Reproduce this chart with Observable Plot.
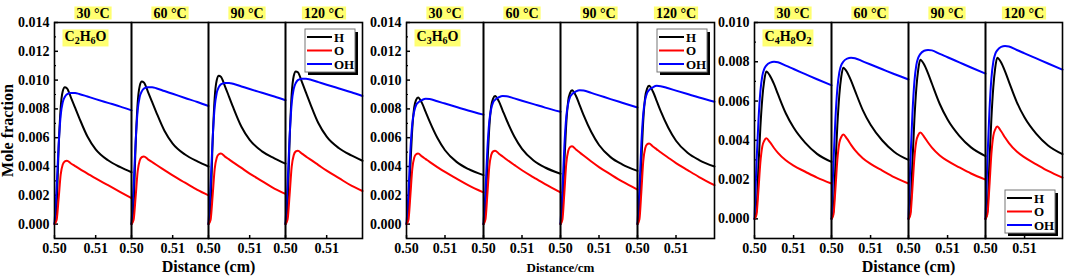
<!DOCTYPE html>
<html><head><meta charset="utf-8">
<script src="https://cdn.jsdelivr.net/npm/d3@7"></script>
<script src="https://cdn.jsdelivr.net/npm/@observablehq/plot@0.6"></script>
<style>
body{margin:0;background:#fff;}
#wrap{position:relative;width:1065px;height:276px;overflow:hidden;}
#wrap svg{position:absolute;top:0;overflow:visible;background:transparent;}
</style></head><body><div id="wrap"></div>
<script>
const temps = ["30 °C", "60 °C", "90 °C", "120 °C"];
const species = ["H", "O", "OH"];
const speciesColors = ["#000000", "#ff0000", "#0000ff"];
const yTicks14 = [0, 0.002, 0.004, 0.006, 0.008, 0.010, 0.012, 0.014];
const yMinor14 = [0.001, 0.003, 0.005, 0.007, 0.009, 0.011, 0.013];
const yTicks10 = [0, 0.002, 0.004, 0.006, 0.008, 0.010];
const yMinor10 = [0.001, 0.003, 0.005, 0.007, 0.009];
const xTicks = [0.50, 0.51];

// ---- C2H6O ----
const c2h6o_x = [0.5, 0.5005, 0.501, 0.5015, 0.502, 0.5025, 0.503, 0.504, 0.505, 0.506, 0.508, 0.510, 0.513, 0.516, 0.5187];
const c2h6o_H = [
  [0, 0.00114, 0.00523, 0.00808, 0.00922, 0.0095, 0.00944, 0.00879, 0.00808, 0.00738, 0.00608, 0.00519, 0.00443, 0.00395, 0.0036],
  [0, 0.00119, 0.00545, 0.00842, 0.0096, 0.0099, 0.00984, 0.00919, 0.00848, 0.00778, 0.00648, 0.00559, 0.00483, 0.00435, 0.0040],
  [0, 0.00124, 0.00567, 0.00876, 0.00999, 0.0103, 0.01024, 0.00957, 0.00884, 0.0081, 0.00676, 0.00585, 0.00505, 0.00457, 0.0042],
  [0, 0.00127, 0.00583, 0.00901, 0.01028, 0.0106, 0.01054, 0.00986, 0.00911, 0.00837, 0.0070, 0.00607, 0.00527, 0.00477, 0.0044]];
const c2h6o_O = [
  [0, 0.00026, 0.00176, 0.00343, 0.00414, 0.00436, 0.0044, 0.00421, 0.00403, 0.00385, 0.00351, 0.00317, 0.00270, 0.00222, 0.0018],
  [0, 0.00028, 0.00188, 0.00367, 0.00442, 0.00465, 0.0047, 0.00450, 0.00431, 0.00412, 0.00375, 0.00338, 0.00288, 0.00238, 0.0020],
  [0, 0.00029, 0.00196, 0.00382, 0.00461, 0.00485, 0.0049, 0.00469, 0.00449, 0.00429, 0.00390, 0.00351, 0.00299, 0.00247, 0.0021],
  [0, 0.00031, 0.00204, 0.00398, 0.00479, 0.00505, 0.0051, 0.00489, 0.00469, 0.00449, 0.00410, 0.00371, 0.00319, 0.00267, 0.0023]];
const c2h6o_OH = [
  [0, 0.00246, 0.00546, 0.00755, 0.00846, 0.00883, 0.00901, 0.0091, 0.0091, 0.00904, 0.00886, 0.00868, 0.00842, 0.00816, 0.0079],
  [0, 0.00257, 0.0057, 0.00789, 0.00884, 0.00922, 0.00941, 0.0095, 0.0095, 0.00944, 0.00924, 0.00905, 0.00876, 0.00848, 0.0082],
  [0, 0.00265, 0.00588, 0.00813, 0.00911, 0.00951, 0.0097, 0.0098, 0.0098, 0.00974, 0.00956, 0.00938, 0.00912, 0.00886, 0.0086],
  [0, 0.00273, 0.00606, 0.00838, 0.00939, 0.0098, 0.0100, 0.0101, 0.0101, 0.01004, 0.00986, 0.00968, 0.00942, 0.00916, 0.0089]];

// ---- C3H6O ----
const c3h6o_x = [0.5, 0.5005, 0.501, 0.5015, 0.502, 0.5025, 0.503, 0.504, 0.505, 0.506, 0.508, 0.510, 0.513, 0.516, 0.5200];
const c3h6o_H = [
  [0, 0.00088, 0.00396, 0.0066, 0.0081, 0.00862, 0.0088, 0.00842, 0.00777, 0.00713, 0.00599, 0.00513, 0.00432, 0.00383, 0.0034],
  [0, 0.00089, 0.00401, 0.00668, 0.00819, 0.00872, 0.0089, 0.00852, 0.00787, 0.00723, 0.00609, 0.00523, 0.00442, 0.00393, 0.0035],
  [0, 0.00093, 0.00419, 0.00698, 0.00856, 0.00911, 0.0093, 0.00891, 0.00824, 0.00756, 0.00639, 0.00549, 0.00465, 0.00415, 0.0037],
  [0, 0.00096, 0.00432, 0.0072, 0.00883, 0.00941, 0.0096, 0.00921, 0.00854, 0.00786, 0.00669, 0.00579, 0.00495, 0.00445, 0.0040]];
const c3h6o_O = [
  [0, 0.00029, 0.00196, 0.00382, 0.00461, 0.00485, 0.0049, 0.00470, 0.00451, 0.00432, 0.00396, 0.00362, 0.00316, 0.00271, 0.0022],
  [0, 0.00031, 0.00204, 0.00398, 0.00479, 0.00505, 0.0051, 0.00489, 0.00469, 0.00449, 0.00411, 0.00374, 0.00325, 0.00277, 0.0022],
  [0, 0.00032, 0.00216, 0.00421, 0.00508, 0.00535, 0.0054, 0.00518, 0.00497, 0.00476, 0.00435, 0.00396, 0.00345, 0.00296, 0.0024],
  [0, 0.00034, 0.00224, 0.00437, 0.00526, 0.00554, 0.0056, 0.00539, 0.00519, 0.00499, 0.00461, 0.00424, 0.00375, 0.00327, 0.0027]];
const c3h6o_OH = [
  [0, 0.00218, 0.00505, 0.00696, 0.00783, 0.00827, 0.00844, 0.00861, 0.0087, 0.00868, 0.00853, 0.00837, 0.00813, 0.00789, 0.0076],
  [0, 0.00223, 0.00516, 0.00712, 0.00801, 0.00846, 0.00863, 0.00881, 0.0089, 0.00888, 0.00873, 0.00857, 0.00833, 0.00809, 0.0078],
  [0, 0.00233, 0.00539, 0.00744, 0.00837, 0.00884, 0.00902, 0.00921, 0.0093, 0.00928, 0.00911, 0.00894, 0.00868, 0.00843, 0.0081],
  [0, 0.0024, 0.00557, 0.00768, 0.00864, 0.00912, 0.00931, 0.0095, 0.0096, 0.00958, 0.00943, 0.00927, 0.00903, 0.00879, 0.0085]];

// ---- C4H8O2 ----
const c4h8o2_x = [0.5, 0.5005, 0.501, 0.5015, 0.502, 0.5025, 0.503, 0.504, 0.505, 0.506, 0.508, 0.510, 0.513, 0.516, 0.5197];
const c4h8o2_H = [
  [0, 0.00038, 0.00263, 0.00465, 0.00615, 0.00705, 0.0075, 0.00727, 0.00686, 0.00635, 0.00538, 0.00465, 0.00387, 0.00331, 0.0029],
  [0, 0.00039, 0.0027, 0.00477, 0.00631, 0.00724, 0.0077, 0.00747, 0.00704, 0.00653, 0.00554, 0.00479, 0.00399, 0.00342, 0.0030],
  [0, 0.00041, 0.00284, 0.00502, 0.00664, 0.00761, 0.0081, 0.00786, 0.00741, 0.00688, 0.00585, 0.00506, 0.00423, 0.00364, 0.0032],
  [0, 0.00041, 0.00287, 0.00508, 0.00672, 0.00771, 0.0082, 0.00796, 0.00751, 0.00698, 0.00595, 0.00516, 0.00433, 0.00374, 0.0033]];
const c4h8o2_O = [
  [0, 0.00021, 0.00144, 0.00287, 0.00369, 0.00398, 0.0041, 0.00389, 0.00361, 0.00336, 0.00298, 0.00271, 0.0024, 0.0021, 0.0018],
  [0, 0.00022, 0.00151, 0.00301, 0.00387, 0.00417, 0.0043, 0.00407, 0.00377, 0.00350, 0.00309, 0.00280, 0.00246, 0.00213, 0.0018],
  [0, 0.00022, 0.00154, 0.00308, 0.00396, 0.00427, 0.0044, 0.00418, 0.00389, 0.00363, 0.00323, 0.00295, 0.00262, 0.00231, 0.0020],
  [0, 0.00024, 0.00165, 0.00329, 0.00423, 0.00456, 0.0047, 0.00446, 0.00414, 0.00386, 0.00343, 0.00313, 0.00278, 0.00244, 0.0021]];
const c4h8o2_OH = [
  [0, 0.0028, 0.00496, 0.00648, 0.00728, 0.00764, 0.0078, 0.00796, 0.0080, 0.00798, 0.0078, 0.00763, 0.00737, 0.00711, 0.0068],
  [0, 0.00287, 0.00508, 0.00664, 0.00746, 0.00783, 0.0080, 0.00816, 0.0082, 0.00818, 0.00802, 0.00786, 0.00762, 0.00738, 0.0071],
  [0, 0.00301, 0.00533, 0.00697, 0.00783, 0.00821, 0.00839, 0.00856, 0.0086, 0.00858, 0.0084, 0.00823, 0.00797, 0.00771, 0.0074],
  [0, 0.00308, 0.00546, 0.00713, 0.00801, 0.0084, 0.00858, 0.00876, 0.0088, 0.00878, 0.0086, 0.00843, 0.00817, 0.00791, 0.0076]];

const FONT = "'Liberation Serif', 'Times New Roman', serif";
const NS = "http://www.w3.org/2000/svg";

function tidy(xs, series) {
  const out = [];
  for (const [sp, rows] of series)
    rows.forEach((row, ti) => row.forEach((v, i) => out.push({temp: temps[ti], species: sp, x: xs[i], y: v})));
  return out;
}

function el(tag, attrs, parent) {
  const e = document.createElementNS(NS, tag);
  for (const k in attrs) e.setAttribute(k, attrs[k]);
  if (parent) parent.appendChild(e);
  return e;
}

function bgRect(t, padX, padY) {
  const b = t.getBBox();
  const r = el("rect", {x: b.x - padX, y: b.y - padY, width: b.width + 2 * padX, height: b.height + 2 * padY, fill: "#ffff70"});
  if (t.getAttribute("transform")) r.setAttribute("transform", t.getAttribute("transform"));
  t.parentNode.insertBefore(r, t);
}

function setSize(svg, label, size) {
  svg.querySelectorAll(`g[aria-label="${label}"] text`).forEach(t => { t.style.fontSize = size + "px"; });
}

function panel(cfg) {
  const data = tidy(cfg.xs, [["H", cfg.H], ["OH", cfg.OH], ["O", cfg.O]]);
  const plot = Plot.plot({
    width: cfg.width, height: 276,
    marginLeft: cfg.marginLeft, marginRight: cfg.marginRight, marginTop: 22, marginBottom: 38,
    style: {fontFamily: FONT, fontWeight: "bold", fontSize: "14px", background: "transparent", color: "#000"},
    x: {domain: cfg.xDomain},
    y: {domain: cfg.yDomain},
    fx: {domain: temps, padding: 0},
    marks: [
      Plot.axisFx({anchor: "top", tickSize: 0, tickPadding: 5, label: null, fontSize: 14}),
      Plot.axisFx({anchor: "bottom", tickSize: 0, tickFormat: () => "", label: cfg.xLabel, labelAnchor: "center", labelOffset: 33, labelArrow: "none"}),
      Plot.axisY({ticks: cfg.yTicks, tickFormat: d3.format(".3f"), tickSize: -4, tickPadding: 9, strokeWidth: 1.5, fontSize: 14,
        label: cfg.yLabel, labelAnchor: "center", labelOffset: 53, labelArrow: "none"}),
      Plot.axisY({ticks: cfg.yMinor, tickSize: -2, text: null, label: null, strokeWidth: 1.2}),
      Plot.axisX({ticks: xTicks, tickFormat: d3.format(".2f"), tickSize: -3, tickPadding: 8, strokeWidth: 1.5, fontSize: 14, label: null}),
      Plot.lineY(data.filter(d => d.species === "H"), {x: "x", y: "y", fx: "temp", stroke: speciesColors[0], strokeWidth: 2, curve: "monotone-x"}),
      Plot.lineY(data.filter(d => d.species === "OH"), {x: "x", y: "y", fx: "temp", stroke: speciesColors[2], strokeWidth: 2, curve: "monotone-x"}),
      Plot.lineY(data.filter(d => d.species === "O"), {x: "x", y: "y", fx: "temp", stroke: speciesColors[1], strokeWidth: 2, curve: "monotone-x"}),
      Plot.frame({strokeWidth: 1.6}),
      Plot.text([{temp: temps[0], label: cfg.name}], {fx: "temp", text: "label", frameAnchor: "top-left", dx: 10, dy: 9,
        textAnchor: "start", lineAnchor: "top", fontSize: 14})
    ]
  });
  plot.style.left = cfg.left + "px";
  document.getElementById("wrap").appendChild(plot);
  const svg = plot.tagName.toLowerCase() === "svg" ? plot : plot.querySelector("svg");

  // font sizes
  setSize(svg, "fx-axis label", cfg.xLabelSize);
  setSize(svg, "y-axis label", 16);
  setSize(svg, "y-axis tick label", 14);
  setSize(svg, "x-axis tick label", 14);
  setSize(svg, "fx-axis tick label", 14);

  // yellow backgrounds for temperature labels
  svg.querySelectorAll('g[aria-label="fx-axis tick label"] text').forEach(t => {
    if (t.textContent.trim()) bgRect(t, 2, -1);
  });
  // species label with subscripts
  Array.from(svg.querySelectorAll("text")).filter(t => t.textContent === cfg.name).forEach(t => {
    const s = t.textContent;
    t.textContent = "";
    let sub = false;
    for (const ch of s) {
      const isDigit = /[0-9]/.test(ch);
      const ts = el("tspan", {}, t);
      if (isDigit && !sub) { ts.setAttribute("dy", "3"); sub = true; }
      else if (!isDigit && sub) { ts.setAttribute("dy", "-3"); sub = false; }
      if (isDigit) ts.setAttribute("font-size", "10");
      ts.textContent = ch;
    }
    bgRect(t, 2, 0);
  });

  // legend
  const fx = plot.scale("fx");
  const fx0 = fx.apply(temps[3]);
  const bw = fx.bandwidth;
  const lw = 50, lh = 43;
  const lx = fx0 + bw - 7 - lw;
  const ly = cfg.legendTop ? 22 + 7 : 238 - 5 - lh;
  const g = el("g", {"aria-label": "legend", transform: `translate(${lx},${ly})`, "font-family": FONT, "font-weight": "bold", "font-size": 13, "text-anchor": "start"}, svg);
  el("rect", {x: 3, y: 3, width: lw, height: lh, fill: "#000"}, g);
  el("rect", {x: 0, y: 0, width: lw, height: lh, fill: "#fff", stroke: "#777", "stroke-width": 1}, g);
  species.forEach((sp, i) => {
    const yy = 8 + i * 13.5;
    el("line", {x1: 2, x2: 27, y1: yy, y2: yy, stroke: speciesColors[i], "stroke-width": 2}, g);
    const tx = el("text", {x: 29, y: yy, dy: "0.35em", fill: "#000", "text-anchor": "start"}, g);
    tx.textContent = sp;
  });
}

panel({left: 0, width: 365, marginLeft: 53, marginRight: 3, xs: c2h6o_x, H: c2h6o_H, O: c2h6o_O, OH: c2h6o_OH,
  xDomain: [0.5, 0.5187], yDomain: [-0.001, 0.014], yTicks: yTicks14, yMinor: yMinor14,
  name: "C2H6O", xLabel: "Distance (cm)", xLabelSize: 16, yLabel: "Mole fraction", legendTop: true});
panel({left: 362, width: 356, marginLeft: 42, marginRight: 3, xs: c3h6o_x, H: c3h6o_H, O: c3h6o_O, OH: c3h6o_OH,
  xDomain: [0.5, 0.5200], yDomain: [-0.001, 0.014], yTicks: yTicks14, yMinor: yMinor14,
  name: "C3H6O", xLabel: "Distance/cm", xLabelSize: 13, yLabel: null, legendTop: true});
panel({left: 715, width: 350, marginLeft: 37, marginRight: 2, xs: c4h8o2_x, H: c4h8o2_H, O: c4h8o2_O, OH: c4h8o2_OH,
  xDomain: [0.5, 0.5197], yDomain: [-0.001, 0.010], yTicks: yTicks10, yMinor: yMinor10,
  name: "C4H8O2", xLabel: "Distance (cm)", xLabelSize: 16, yLabel: null, legendTop: false});
</script></body></html>
